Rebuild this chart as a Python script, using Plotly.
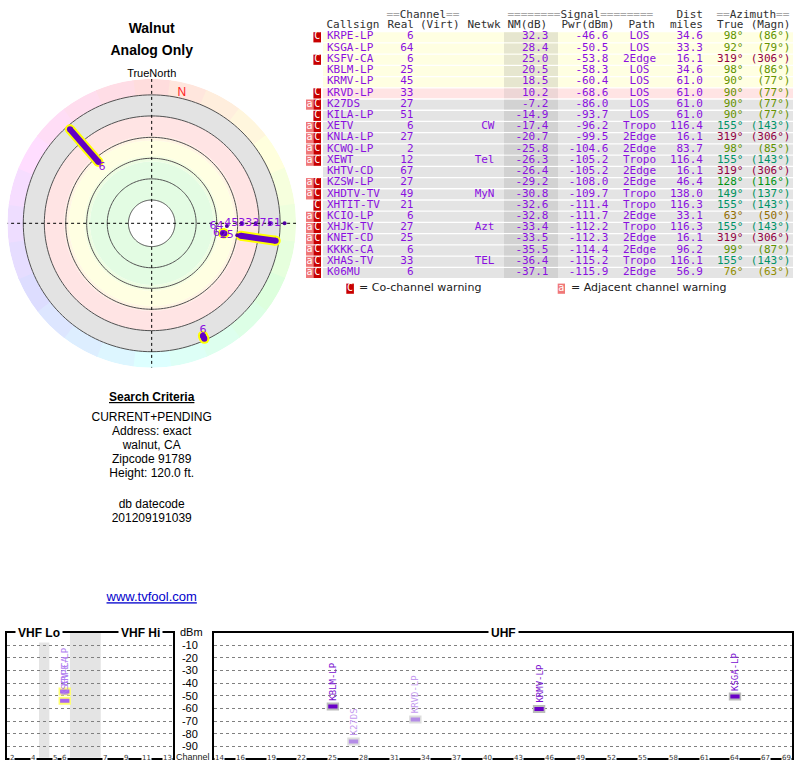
import colorsys
import plotly.graph_objects as go

# ---------------- data ----------------
callsigns = ["KRPE-LP", "KSGA-LP", "KSFV-CA", "KBLM-LP", "KRMV-LP", "KRVD-LP", "K27DS",
             "KILA-LP", "XETV", "KNLA-LP", "KCWQ-LP", "XEWT", "KHTV-CD", "KZSW-LP",
             "XHDTV-TV", "XHTIT-TV", "KCIO-LP", "XHJK-TV", "KNET-CD", "KKKK-CA",
             "XHAS-TV", "K06MU"]
real_ch = [6, 64, 6, 25, 45, 33, 27, 51, 6, 27, 2, 12, 67, 27, 49, 21, 6, 27, 25, 6, 33, 6]
networks = ["", "", "", "", "", "", "", "", "CW", "", "", "Tel", "", "", "MyN", "", "",
            "Azt", "", "", "TEL", ""]
nm_db = [32.3, 28.4, 25.0, 20.5, 18.5, 10.2, -7.2, -14.9, -17.4, -20.7, -25.8, -26.3,
         -26.4, -29.2, -30.8, -32.6, -32.8, -33.4, -33.5, -35.5, -36.4, -37.1]
pwr_dbm = [-46.6, -50.5, -53.8, -58.3, -60.4, -68.6, -86.0, -93.7, -96.2, -99.5, -104.6,
           -105.2, -105.2, -108.0, -109.7, -111.4, -111.7, -112.2, -112.3, -114.4,
           -115.2, -115.9]
paths = ["LOS", "LOS", "2Edge", "LOS", "LOS", "LOS", "LOS", "LOS", "Tropo", "2Edge",
         "2Edge", "Tropo", "2Edge", "2Edge", "Tropo", "Tropo", "2Edge", "Tropo", "2Edge",
         "2Edge", "Tropo", "2Edge"]
dist_mi = [34.6, 33.3, 16.1, 34.6, 61.0, 61.0, 61.0, 61.0, 116.4, 16.1, 83.7, 116.4,
           16.1, 46.4, 138.0, 116.3, 33.1, 116.3, 16.1, 96.2, 116.1, 56.9]
az_true = [98, 92, 319, 98, 90, 90, 90, 90, 155, 319, 98, 155, 319, 128, 149, 155, 63,
           155, 319, 99, 155, 76]
az_magn = [86, 79, 306, 86, 77, 77, 77, 77, 143, 306, 85, 143, 306, 116, 137, 143, 50,
           143, 306, 87, 143, 63]
adj_warn = [0, 0, 0, 0, 0, 0, 1, 0, 1, 1, 1, 1, 0, 1, 1, 0, 1, 1, 1, 1, 1, 1]
co_warn = [1, 0, 1, 0, 0, 1, 1, 1, 1, 1, 1, 1, 0, 1, 1, 1, 1, 1, 1, 1, 1, 1]

# radar marks (azimuth in degrees, radial position in noise-margin dB)
radar_dot_az = [98, 92, 98, 90, 90, 90, 90]
radar_dot_nm = [32.3, 30.0, 20.5, 17.5, 5.5, -6.5, -19.0]
radar_dot_lbl = ["6", "64", "25", "45", "33", "27", "51"]
radar_seg_az = [319, 98, 155.5, 98]
radar_seg_from = [25.0, 17.5, -11.0, 32.8]
radar_seg_to = [-12.0, -12.5, -14.0, 31.6]
radar_seg_lbl = ["6", "", "6", ""]

ring_nm = [74.2, 56.2, 38.7, 20.9, 2.7, -15.2]
vhf_slot = {2: 0, 3: 1, 4: 2, 5: 4.1, 6: 5.07, 7: 9, 8: 10, 9: 11, 10: 12, 11: 13, 12: 14, 13: 15}
vhf_tick_ch = [2, 4, 5, 6, 7, 9, 11, 13]
uhf_tick_ch = [14, 16, 19, 22, 25, 28, 31, 34, 37, 40, 43, 46, 49, 52, 55, 58, 61, 64, 67, 69]
dbm_ticks = [-10, -20, -30, -40, -50, -60, -70, -80, -90]

search_lines = ["CURRENT+PENDING", "Address: exact", "walnut, CA", "Zipcode 91789",
                "Height: 120.0 ft.", "db datecode", "201209191039"]

# ---------------- styles / layout constants ----------------
MONO = "DejaVu Sans Mono, monospace"
SANS = "Liberation Sans, Arial, sans-serif"
VERD = "DejaVu Sans, Verdana, sans-serif"
PURPLE = "#8a10e0"
n = len(callsigns)
ROW0, ROWH = 36.7, 11.22
row_y = [ROW0 + i * ROWH for i in range(n)]
bg_y = [y + 0.6 for y in row_y]


def row_color(v):
    return "#FFFFE2" if v >= 15 else ("#FFE4E4" if v >= 0 else "#E4E4E4")


def nm_color(v):
    return "#E6E6CF" if v >= 15 else ("#EDD6D6" if v >= 0 else "#D2D2D2")


_anch = [(0, 0), (63, 45), (76, 58), (90, 78), (99, 82), (128, 128), (149, 158),
         (155, 163), (319, 333), (360, 360)]


def az_hue(a):
    for (a0, h0), (a1, h1) in zip(_anch[:-1], _anch[1:]):
        if a0 <= a <= a1:
            return h0 + (h1 - h0) * (a - a0) / (a1 - a0)
    return a


def hls_hex(h, l, s):
    r, g, b = colorsys.hls_to_rgb((h % 360) / 360.0, l, s)
    return "#%02x%02x%02x" % (int(r * 255), int(g * 255), int(b * 255))


def az_color(a):
    return hls_hex(az_hue(a), 0.29, 1.0)


fig = go.Figure()

# ---------------- station table (page-pixel axis x/y) ----------------
fig.add_trace(go.Bar(orientation="h", y=bg_y, x=[470] * n, base=323, width=ROWH - 1.3,
                     marker=dict(color=[row_color(v) for v in nm_db], line=dict(width=0)),
                     hoverinfo="skip"))
fig.add_trace(go.Bar(orientation="h", y=bg_y, x=[54] * n, base=504, width=ROWH - 1.3,
                     marker=dict(color=[nm_color(v) for v in nm_db], line=dict(width=0)),
                     hoverinfo="skip"))
# warning badges
ya = [bg_y[i] for i in range(n) if adj_warn[i]]
yc = [bg_y[i] for i in range(n) if co_warn[i]]
fig.add_trace(go.Bar(orientation="h", y=ya + [288.7], x=[7.3] * (len(ya) + 1),
                     base=[306] * len(ya) + [557.7], width=10.2,
                     marker=dict(color="#F07878", line=dict(width=0)), hoverinfo="skip"))
fig.add_trace(go.Bar(orientation="h", y=yc + [288.7], x=[7.6] * (len(yc) + 1),
                     base=[313.4] * len(yc) + [346.3], width=10.2,
                     marker=dict(color="#C80000", line=dict(width=0)), hoverinfo="skip"))
fig.add_trace(go.Scatter(x=[309.6] * len(ya) + [561.3], y=[y - 0.6 for y in ya] + [288],
                         mode="text", text=["a"] * (len(ya) + 1),
                         textfont=dict(family=MONO, size=10, color="white"), hoverinfo="skip"))
fig.add_trace(go.Scatter(x=[317.2] * len(yc) + [350.1], y=[y - 0.6 for y in yc] + [288],
                         mode="text", text=["C"] * (len(yc) + 1),
                         textfont=dict(family=MONO, size=10, color="white"), hoverinfo="skip"))


def col(xpos, texts, pos, colors=PURPLE):
    fig.add_trace(go.Scatter(x=[xpos] * n, y=row_y, mode="text", text=texts,
                             textposition=pos, hoverinfo="skip",
                             textfont=dict(family=MONO, size=11, color=colors)))


col(327, callsigns, "middle right")
col(413.5, [str(c) for c in real_ch], "middle left")
col(494.5, networks, "middle left")
col(548.5, ["%.1f" % v for v in nm_db], "middle left")
col(608.5, ["%.1f" % v for v in pwr_dbm], "middle left")
col(639.5, paths, "middle center")
col(703, ["%.1f" % v for v in dist_mi], "middle left")
col(743.5, ["%d°" % a for a in az_true], "middle left", [az_color(a) for a in az_true])
col(790.5, ["(%d°)" % a for a in az_magn], "middle left", [az_color(a) for a in az_true])

G = '<span style="color:#a8a8a8">%s</span>'
hdr = [
    (386.5, 15, G % "==" + "Channel" + G % "==", "middle right"),
    (507.5, 15, G % "========" + "Signal" + G % "========", "middle right"),
    (703, 15, "Dist", "middle left"),
    (716.5, 15, G % "==" + "Azimuth" + G % "==", "middle right"),
    (326.5, 25.5, "Callsign", "middle right"),
    (387.5, 25.5, "Real", "middle right"),
    (420, 25.5, "(Virt)", "middle right"),
    (467.5, 25.5, "Netwk", "middle right"),
    (507.5, 25.5, "NM(dB)", "middle right"),
    (561.5, 25.5, "Pwr(dBm)", "middle right"),
    (628.5, 25.5, "Path", "middle right"),
    (703, 25.5, "miles", "middle left"),
    (743.5, 25.5, "True", "middle left"),
    (790.5, 25.5, "(Magn)", "middle left"),
]
for hx, hy, ht, hp in hdr:
    fig.add_trace(go.Scatter(x=[hx], y=[hy], mode="text", text=[ht], textposition=hp,
                             hoverinfo="skip",
                             textfont=dict(family=MONO, size=11, color="#303030")))
fig.add_trace(go.Scatter(x=[359, 571], y=[288.5, 288.5], mode="text",
                         text=["= Co-channel warning", "= Adjacent channel warning"],
                         textposition="middle right", hoverinfo="skip",
                         textfont=dict(family=VERD, size=11, color="#202020")))

# left column texts
fig.add_trace(go.Scatter(x=[151.7, 151.7, 151.7], y=[29, 51, 74], mode="text",
                         text=["<b>Walnut</b>", "<b>Analog Only</b>", "TrueNorth"],
                         hoverinfo="skip",
                         textfont=dict(family=SANS, size=[14, 14, 11], color="black")))
fig.add_trace(go.Scatter(x=[151.7], y=[398], mode="text", text=["<b><u>Search Criteria</u></b>"],
                         hoverinfo="skip", textfont=dict(family=SANS, size=12, color="black")))
fig.add_trace(go.Scatter(x=[151.7] * 7, y=[418, 432, 446, 460, 474, 505, 519], mode="text",
                         text=search_lines, hoverinfo="skip",
                         textfont=dict(family=SANS, size=12, color="black")))
fig.add_trace(go.Scatter(x=[151.7], y=[598], mode="text", text=["<u>www.tvfool.com</u>"],
                         hoverinfo="skip", textfont=dict(family=SANS, size=13, color="#0000CC")))

# ---------------- radar (polar) ----------------
R_CENTER, R_EDGE = 94.0, -28.8
bands = [(41.5, 74.2, "#E3FCE3"), (39.0, 41.5, "#EDFDE2"), (36.5, 39.0, "#F6FEE1"),
         (23.5, 36.5, "#FFFFE2"), (21.5, 23.5, "#FFF6E2"), (19.5, 21.5, "#FFEDE3"),
         (2.7, 19.5, "#FFE4E4"), (-15.2, 2.7, "#E3E3E3")]
for lo, hi, c in bands:
    fig.add_trace(go.Barpolar(theta=[0], r=[hi - lo], base=[lo], width=[360],
                              marker=dict(color=c, line=dict(width=0)), hoverinfo="skip"))
sect = list(range(0, 360, 15))
fig.add_trace(go.Barpolar(theta=sect, r=[ring_nm[-1] - R_EDGE] * len(sect),
                          base=[R_EDGE] * len(sect), width=[15.5] * len(sect),
                          marker=dict(color=[hls_hex(t, 0.935, 1.0) for t in sect],
                                      line=dict(width=0)), hoverinfo="skip"))
circ = [i for i in range(0, 361, 2)]
for rv in ring_nm:
    fig.add_trace(go.Scatterpolar(r=[rv] * len(circ), theta=circ, mode="lines",
                                  line=dict(color="#505050", width=1), hoverinfo="skip"))
fig.add_trace(go.Scatterpolar(r=[R_EDGE, R_CENTER, R_EDGE, None, R_EDGE, R_CENTER, R_EDGE],
                              theta=[0, 0, 180, None, 90, 90, 270], mode="lines",
                              line=dict(color="black", width=1, dash="dot"), hoverinfo="skip"))
seg_r, seg_t = [], []
for a, f, t in zip(radar_seg_az, radar_seg_from, radar_seg_to):
    seg_r += [f, t, None]
    seg_t += [a, a, None]
fig.add_trace(go.Scatterpolar(r=seg_r, theta=seg_t, mode="lines",
                              line=dict(color="#FFFF00", width=10), hoverinfo="skip"))
fig.add_trace(go.Scatterpolar(r=radar_seg_from + radar_seg_to, theta=radar_seg_az * 2,
                              mode="markers", marker=dict(color="#FFFF00", size=10),
                              hoverinfo="skip"))
fig.add_trace(go.Scatterpolar(r=seg_r, theta=seg_t, mode="lines",
                              line=dict(color="#6200C4", width=6), hoverinfo="skip"))
fig.add_trace(go.Scatterpolar(r=radar_seg_from + radar_seg_to, theta=radar_seg_az * 2,
                              mode="markers", marker=dict(color="#6200C4", size=6),
                              hoverinfo="skip"))
fig.add_trace(go.Scatterpolar(r=radar_dot_nm, theta=radar_dot_az, mode="markers+text",
                              marker=dict(color="#5000A0", size=4),
                              text=radar_dot_lbl, textposition="middle left",
                              textfont=dict(family=VERD, size=11, color=PURPLE),
                              hoverinfo="skip"))
fig.add_trace(go.Scatterpolar(r=[radar_seg_from[0], radar_seg_from[2]],
                              theta=[radar_seg_az[0], radar_seg_az[2]], mode="text",
                              text=[radar_seg_lbl[0], radar_seg_lbl[2]],
                              textposition=["bottom right", "top center"],
                              textfont=dict(family=VERD, size=11, color=PURPLE),
                              hoverinfo="skip"))
fig.add_trace(go.Scatterpolar(r=[-19.5], theta=[13], mode="text", text=["N"],
                              textfont=dict(family=SANS, size=12, color="#FF2020"),
                              hoverinfo="skip"))

# ---------------- spectrum (VHF x2/y2, UHF x3/y3) ----------------
spec_idx = [i for i in range(n) if nm_db[i] > -10]
spec_style = {"KRPE-LP": ("#A865F0", "#FFFF70", "#B07CF0"),
              "KSFV-CA": ("#A865F0", "#FFFF70", "#B07CF0"),
              "KBLM-LP": ("#6A00C8", "#BBBBBB", "#7A10D0"),
              "KRMV-LP": ("#6A00C8", "#BBBBBB", "#7A10D0"),
              "KSGA-LP": ("#6A00C8", "#BBBBBB", "#7A10D0"),
              "K27DS": ("#B48CE6", "#DDDDDD", "#C49AF0"),
              "KRVD-LP": ("#B48CE6", "#DDDDDD", "#C49AF0")}
annotations = []
for i in spec_idx:
    ch = real_ch[i]
    if ch <= 13:
        xp, xa, ya_, hw = vhf_slot[ch], "x2", "y2", 0.45
    else:
        xp, xa, ya_, hw = ch, "x3", "y3", 0.45
    core, halo, lab = spec_style[callsigns[i]]
    fig.add_trace(go.Scatter(x=[xp - hw - 0.15, xp + hw + 0.15], y=[pwr_dbm[i]] * 2,
                             mode="lines", line=dict(color=halo, width=8),
                             xaxis=xa, yaxis=ya_, hoverinfo="skip"))
    fig.add_trace(go.Scatter(x=[xp - hw, xp + hw], y=[pwr_dbm[i]] * 2, mode="lines",
                             line=dict(color=core, width=4), xaxis=xa, yaxis=ya_,
                             hoverinfo="skip"))
    annotations.append(dict(x=xp, y=pwr_dbm[i], xref=xa, yref=ya_, text=callsigns[i],
                            textangle=-90, showarrow=False, yanchor="bottom",
                            xanchor="center", yshift=4,
                            font=dict(family=MONO, size=9, color=lab)))

for ch in vhf_tick_ch:
    annotations.append(dict(x=vhf_slot[ch], y=-98.8, xref="x2", yref="y2", text=str(ch),
                            showarrow=False, bgcolor="white", borderpad=0,
                            font=dict(family=VERD, size=7, color="#333")))
for ch in uhf_tick_ch:
    annotations.append(dict(x=ch, y=-98.8, xref="x3", yref="y3", text=str(ch),
                            showarrow=False, bgcolor="white", borderpad=0,
                            font=dict(family=VERD, size=7, color="#333")))
for tx, ty, tt in [(38.5, 632.7, "<b>VHF Lo</b>"), (140, 632.7, "<b>VHF Hi</b>"),
                   (503, 632.7, "<b>UHF</b>")]:
    annotations.append(dict(x=tx, y=ty, xref="x", yref="y", text=tt, showarrow=False,
                            bgcolor="white", borderpad=2,
                            font=dict(family=SANS, size=12, color="black")))
annotations.append(dict(x=191, y=632, xref="x", yref="y", text="dBm", showarrow=False,
                        font=dict(family=SANS, size=11, color="black")))
annotations.append(dict(x=193, y=757, xref="x", yref="y", text="Channel", showarrow=False,
                        bgcolor="white", borderpad=0,
                        font=dict(family=SANS, size=9, color="#222")))

fig.add_shape(type="rect", xref="x2", yref="y2 domain", x0=2.58, x1=3.58, y0=0, y1=1,
              fillcolor="#E4E4E4", line=dict(width=0), layer="below")
fig.add_shape(type="rect", xref="x2", yref="y2 domain", x0=5.57, x1=8.55, y0=0, y1=1,
              fillcolor="#E4E4E4", line=dict(width=0), layer="below")

SY = [1 - 757.7 / 768, 1 - 632.5 / 768]
box = dict(showline=True, mirror=True, linewidth=2, linecolor="black", zeroline=False)
fig.update_layout(
    width=800, height=768, margin=dict(l=0, r=0, t=0, b=0),
    paper_bgcolor="white", plot_bgcolor="rgba(0,0,0,0)", showlegend=False,
    barmode="overlay", annotations=annotations, hovermode=False,
    xaxis=dict(domain=[0, 1], range=[0, 800], visible=False, fixedrange=True),
    yaxis=dict(domain=[0, 1], range=[768, 0], visible=False, fixedrange=True),
    xaxis2=dict(domain=[7.3 / 800, 172.7 / 800], range=[-0.483, 15.5], anchor="y2",
                showgrid=False, showticklabels=False, ticks="", **box),
    yaxis2=dict(domain=SY, range=[-98.8, 0], anchor="x2", tickvals=dbm_ticks,
                showticklabels=False, ticks="", showgrid=True, gridcolor="#808080",
                griddash="dot", gridwidth=1, **box),
    xaxis3=dict(domain=[214 / 800, 792.3 / 800], range=[13.47, 69.56], anchor="y3",
                showgrid=False, showticklabels=False, ticks="", **box),
    yaxis3=dict(domain=SY, range=[-98.8, 0], anchor="x3", tickvals=dbm_ticks,
                ticktext=[str(v) for v in dbm_ticks], ticks="outside", ticklen=12,
                tickcolor="rgba(0,0,0,0)", tickfont=dict(family=SANS, size=11, color="black"),
                showgrid=True, gridcolor="#808080", griddash="dot", gridwidth=1, **box),
    polar=dict(domain=dict(x=[7.3 / 800, 296.1 / 800],
                           y=[1 - 367.7 / 768, 1 - 78.9 / 768]),
               bgcolor="rgba(0,0,0,0)", barmode="overlay",
               radialaxis=dict(range=[R_CENTER, R_EDGE], visible=False),
               angularaxis=dict(rotation=90, direction="clockwise", visible=False)),
)

fig.write_html("out.html", config={"displayModeBar": False, "staticPlot": True},
               post_script="document.body.style.margin='0px';"
                           "document.body.style.overflow='hidden';")
